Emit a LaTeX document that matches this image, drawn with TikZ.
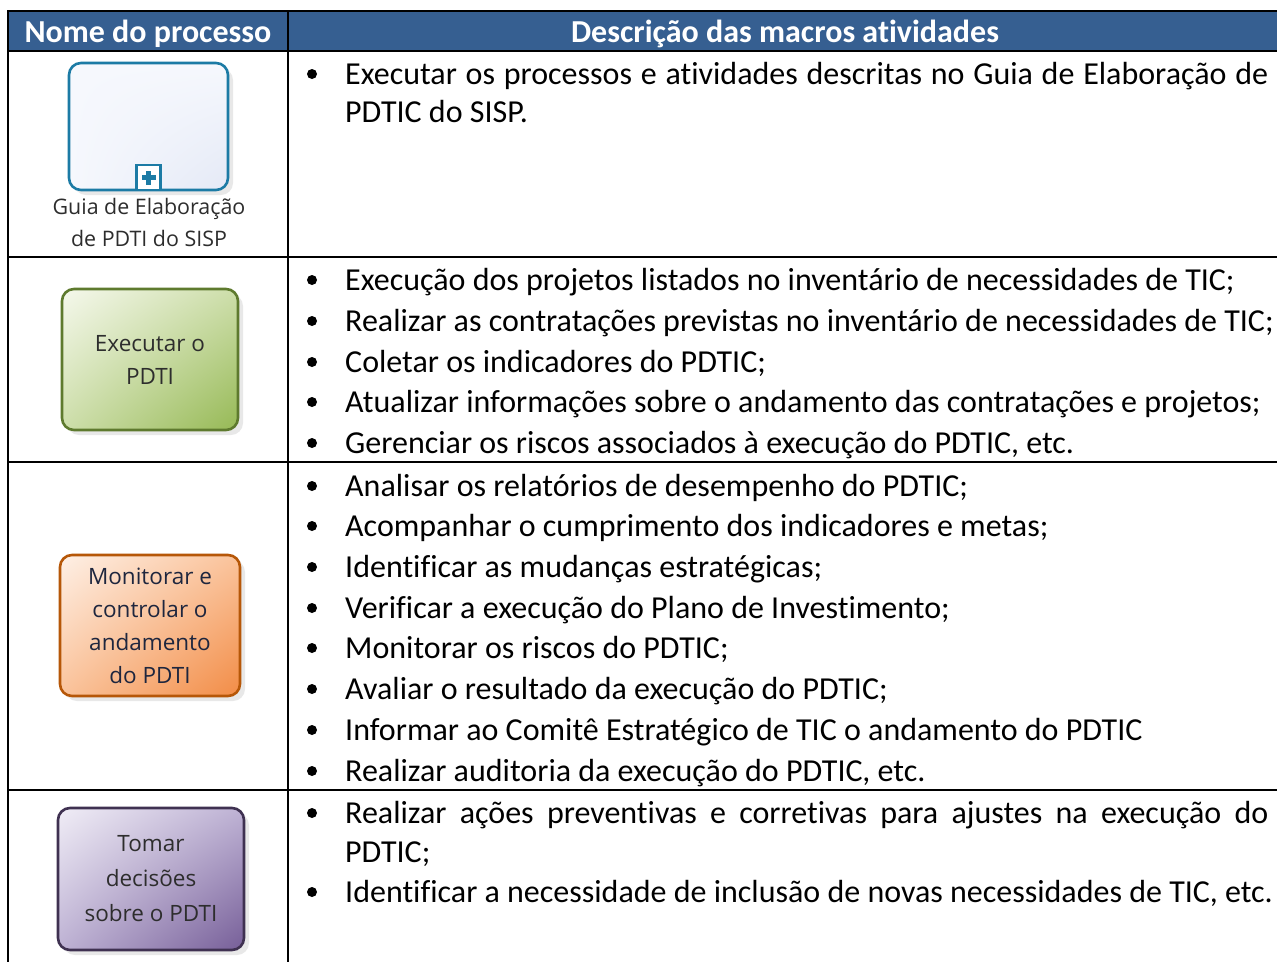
\documentclass[tikz,border=0pt]{standalone}
\usepackage{fontspec}
\setmainfont{Carlito}[Ligatures={NoCommon}]
\newfontfamily\boxfont{Open Sans}
\usetikzlibrary{shadows,shadings}
\definecolor{hdr}{RGB}{54,95,145}
\definecolor{guiaB}{RGB}{28,123,165}
\definecolor{guiaF}{RGB}{246,248,253}
\definecolor{guiaF2}{RGB}{228,233,246}
\definecolor{grnL}{RGB}{245,248,236}
\definecolor{grnM}{RGB}{205,222,170}
\definecolor{grnD}{RGB}{150,185,85}
\definecolor{grnB}{RGB}{94,122,46}
\definecolor{orL}{RGB}{254,240,230}
\definecolor{orM}{RGB}{250,195,155}
\definecolor{orD}{RGB}{242,140,70}
\definecolor{orB}{RGB}{182,87,8}
\definecolor{puL}{RGB}{240,237,246}
\definecolor{puM}{RGB}{190,178,212}
\definecolor{puD}{RGB}{118,94,152}
\definecolor{puB}{RGB}{63,49,81}
\definecolor{boxtxt}{RGB}{45,45,45}
\definecolor{navytxt}{RGB}{30,38,62}
\tikzset{
  grid/.style={line width=2.2pt, black},
  txt/.style={anchor=base west, inner sep=0pt, font=\fontsize{32}{38}\selectfont},
  hdrtxt/.style={anchor=base, inner sep=0pt, text=white, font=\fontsize{32}{36}\selectfont\bfseries},
  bul/.style={circle, fill=black, inner sep=0pt, minimum size=10pt},
  procbox/.style={rounded corners=12pt, line width=2.6pt, drop shadow={shadow xshift=5pt, shadow yshift=-5pt, opacity=0.18}},
  boxlbl/.style={align=center, inner sep=0pt, font=\boxfont\fontsize{22.5}{33}\selectfont}
}
\begin{document}
\begin{tikzpicture}[x=1pt,y=-1pt]
\useasboundingbox (0,0) rectangle (1277,962);
\fill[white] (0,0) rectangle (1277,962);
% header
\fill[hdr] (8,11) rectangle (1277,51);
\draw[grid] (8,11) -- (1277,11);
\draw[grid] (8,51) -- (1277,51);
\draw[grid] (8,257) -- (1277,257);
\draw[grid] (8,462) -- (1277,462);
\draw[grid] (8,790) -- (1277,790);
\draw[grid] (8,10) -- (8,962);
\draw[grid] (288,10) -- (288,962);
\node[hdrtxt] (h1) at (148,42) {Nome do processo};
\node[hdrtxt] (h2) at (785,42) {Descrição das macros atividades};

% box 1
\draw[procbox, draw=guiaB, upper left=guiaF, upper right=guiaF, lower left=guiaF, lower right=guiaF2] (69,63) rectangle (228,190);
\node[draw=guiaB, fill=white, line width=2.2pt, minimum width=24pt, minimum height=25pt, inner sep=0pt] (mk) at (148.5,177.5) {};
\fill[guiaB] (mk.center) ++(-7,-2.5) rectangle ++(14,5);
\fill[guiaB] (mk.center) ++(-2.5,-7) rectangle ++(5,14);
\node[boxlbl, text=boxtxt, font=\boxfont\fontsize{21.4}{32}\selectfont] (b1) at (149,222) {Guia de Elaboração\\de PDTI do SISP};

% box 2
\draw[procbox, draw=grnB, upper left=grnL, upper right=grnM, lower left=grnM, lower right=grnD] (62,289) rectangle (238,430);
\node[boxlbl, text=boxtxt] (b2) at (150,359.5) {Executar o\\PDTI};

% box 3
\draw[procbox, draw=orB, upper left=orL, upper right=orM, lower left=orM, lower right=orD] (60,555) rectangle (240,696);
\node[boxlbl, text=navytxt] (b3) at (150,625.5) {Monitorar e\\controlar o\\andamento\\do PDTI};

% box 4
\draw[procbox, draw=puB, upper left=puL, upper right=puM, lower left=puM, lower right=puD] (58,808) rectangle (244,950);
\node[boxlbl, text=boxtxt, font=\boxfont\fontsize{22.5}{35}\selectfont] (b4) at (151,879) {Tomar\\decisões\\sobre o PDTI};

% row 1
\node[bul] (r1b1) at (312,74) {};
\node[txt] (r1a) at (345,84) {\makebox[923pt][s]{Executar os processos e atividades descritas no Guia de Elaboração de}};
\node[txt] (r1b) at (345,122) {PDTIC do SISP.};

% row 2
\foreach \y/\t [count=\i] in {
  290/{Execução dos projetos listados no inventário de necessidades de TIC;},
  331/{Realizar as contratações previstas no inventário de necessidades de TIC;},
  372/{Coletar os indicadores do PDTIC;},
  412/{Atualizar informações sobre o andamento das contratações e projetos;},
  453/{Gerenciar os riscos associados à execução do PDTIC, etc.}}{
  \node[bul] (r2b\i) at (312,\y-10) {};
  \node[txt] (r2t\i) at (345,\y) {\t};
}

% row 3
\foreach \y/\t [count=\i] in {
  496/{Analisar os relatórios de desempenho do PDTIC;},
  536/{Acompanhar o cumprimento dos indicadores e metas;},
  577/{Identificar as mudanças estratégicas;},
  618/{Verificar a execução do Plano de Investimento;},
  658/{Monitorar os riscos do PDTIC;},
  699/{Avaliar o resultado da execução do PDTIC;},
  740/{Informar ao Comitê Estratégico de TIC o andamento do PDTIC},
  781/{Realizar auditoria da execução do PDTIC, etc.}}{
  \node[bul] (r3b\i) at (312,\y-10) {};
  \node[txt] (r3t\i) at (345,\y) {\t};
}

% row 4
\node[bul] (r4b1) at (312,813) {};
\node[txt] (r4a) at (345,823) {\makebox[923pt][s]{Realizar ações preventivas e corretivas para ajustes na execução do}};
\node[txt] (r4b) at (345,862) {PDTIC;};
\node[bul] (r4b2) at (312,892) {};
\node[txt] (r4c) at (345,902) {Identificar a necessidade de inclusão de novas necessidades de TIC, etc.};
\end{tikzpicture}
\end{document}
